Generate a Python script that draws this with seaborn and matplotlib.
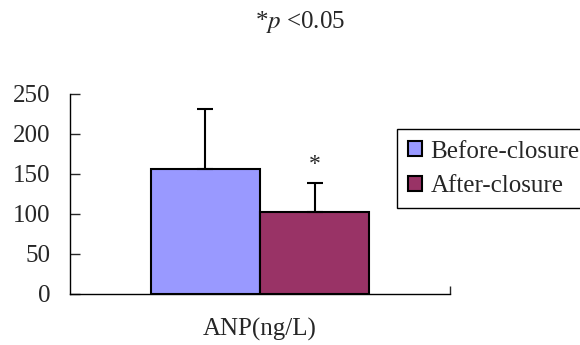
import pandas as pd
import numpy as np
import seaborn as sns
import matplotlib.pyplot as plt

# datos
grupos = ['Before-closure', 'After-closure']
categoria = ['ANP(ng/L)']
media = [156, 102]
sd = [75, 37]
colores = ['#9999FF', '#993366']

df = pd.DataFrame({'cat': categoria * 2, 'grupo': grupos, 'valor': media})

sns.set_style('white')
plt.rcParams['font.family'] = ['Liberation Serif', 'DejaVu Serif']
plt.rcParams['mathtext.fontset'] = 'stix'

fig = plt.figure(figsize=(5.8, 3.45), dpi=100)
ax = fig.add_axes([0.1207, 0.148, 0.655, 0.58])

sns.barplot(data=df, x='cat', y='valor', hue='grupo', palette=colores,
            width=0.576, errorbar=None, edgecolor='black', linewidth=1.5,
            saturation=1, ax=ax)

# barras de error solo hacia arriba
barras = ax.patches[:2]
xs = [b.get_x() + b.get_width() / 2 for b in barras]
ax.errorbar(xs, media, yerr=[[0, 0], sd], fmt='none', ecolor='black',
            elinewidth=1.5, capsize=6, capthick=1.5)
ax.text(xs[1], media[1] + sd[1] + 9, '*', ha='center', va='bottom', fontsize=17)

ax.set_ylim(0, 250)
ax.set_yticks([0, 50, 100, 150, 200, 250])
ax.set_xlim(-0.5, 0.5)
ax.set_xticks([0.5])
ax.set_xticklabels([''])
ax.set_xlabel('ANP(ng/L)', fontsize=18, labelpad=14)
ax.set_ylabel('')
ax.tick_params(axis='y', direction='in', length=7, width=1, labelsize=18, pad=14, left=True)
ax.tick_params(axis='x', direction='in', length=6, width=1, bottom=True)
for s in ['top', 'right']:
    ax.spines[s].set_visible(False)
for s in ['left', 'bottom']:
    ax.spines[s].set_color('black')
    ax.spines[s].set_linewidth(1)

fig.text(0.517, 0.935, r'*$p$ <0.05', ha='center', va='center', fontsize=18)

leg = ax.legend(loc='upper left', bbox_to_anchor=(0.684, 0.625), bbox_transform=fig.transFigure,
                fontsize=18, frameon=True, fancybox=False, framealpha=1,
                handlelength=0.55, handleheight=0.55, handletextpad=0.35,
                borderpad=0.45, labelspacing=0.5, title=None, borderaxespad=0)
leg.get_frame().set_edgecolor('black')
leg.get_frame().set_linewidth(1)

fig.savefig('out.png', dpi=100)
